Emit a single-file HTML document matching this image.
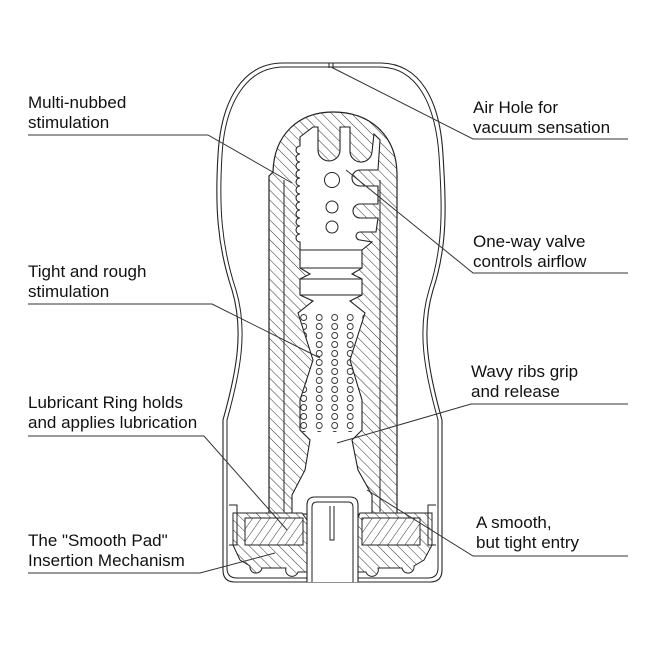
<!DOCTYPE html>
<html><head><meta charset="utf-8"><style>
html,body{margin:0;padding:0;background:#fff}
svg{display:block}
text{font-family:"Liberation Sans",Arial,sans-serif;font-size:17px;fill:#111}
</style></head><body>
<svg width="650" height="650" viewBox="0 0 650 650" xmlns="http://www.w3.org/2000/svg">
<defs>
<pattern id="h" width="7" height="7" patternUnits="userSpaceOnUse" patternTransform="rotate(-45)">
<rect width="7" height="7" fill="#fff"/><line x1="0" y1="0" x2="0" y2="7" stroke="#333" stroke-width="1"/>
</pattern>
<pattern id="h2" width="7" height="7" patternUnits="userSpaceOnUse" patternTransform="rotate(35)">
<rect width="7" height="7" fill="#fff"/><line x1="0" y1="0" x2="0" y2="7" stroke="#333" stroke-width="1"/>
</pattern>
<pattern id="d" x="296" y="304" width="15.5" height="9" patternUnits="userSpaceOnUse">
<circle cx="7.7" cy="4.5" r="3" fill="none" stroke="#333" stroke-width="0.9"/>
</pattern>
<clipPath id="dc"><path d="M298,313 L313,360 L300,400 L300,432 L362,432 L362,400 L350,360 L365,313 Z"/></clipPath>
</defs>

<g fill="none" stroke="#222">
<path stroke-width="1.1" d="M283,63 H380 C420,63 440,100 443,155 C446,205 448,245 433,290 C421,330 428,370 442,420 L442,570 Q442,582 430,582 H235 Q223,582 223,570 L223,420 C237,370 244,330 232,290 C217,245 215,205 218,155 C221,100 243,63 283,63 Z"/>
<path stroke-width="1" d="M284,67 H379 C416,67 435,102 439,155 C442,205 444,245 429,290 C417,330 424,370 438,420 L438,568 Q438,578 428,578 H237 Q227,578 227,568 L227,420 C241,370 248,330 236,290 C221,245 219,205 222,155 C225,102 247,67 284,67 Z"/>
<line x1="329" y1="63" x2="329" y2="68" stroke-width="1"/><line x1="333" y1="63" x2="333" y2="68" stroke-width="1"/>
</g>

<path d="M269,514 V176 L273,172 C274,135 298,112 333,112 C370,112 396,135 397,173 V514 Z" fill="url(#h)" stroke="#222" stroke-width="1.2"/>
<line x1="284" y1="180" x2="284" y2="512" stroke="#222" stroke-width="1"/>
<line x1="380" y1="180" x2="380" y2="512" stroke="#222" stroke-width="1"/>

<path d="M300,137 L313,127 L318,127 L318,150 A11,11 0 0 0 340,150 L340,127 L350,127 L350,150 A11,11 0 0 0 372,152 L374,134 L380,140 L378,170 L360,170 A8,8 0 0 0 360,186 L378,186 L378,204 L360,204 A7,7 0 0 0 360,218 L378,218 L376,232 L360,232 A4,4 0 0 0 360,240 L372,242 L362,250 L362,268 L352,274 L362,279 L362,295 L350,301 L365,313 L350,360 L362,400 L362,430 L352,440 L358,470 L372,495 L372,514 L292,514 L292,495 L305,470 L310,440 L300,430 L300,400 L313,360 L298,313 L313,301 L300,295 L300,279 L310,274 L300,268 L300,250 L300,242 a4,4 0 0 1 0,-8 a4,4 0 0 1 0,-8 a4,4 0 0 1 0,-8 a4,4 0 0 1 0,-8 a4,4 0 0 1 0,-8 a4,4 0 0 1 0,-8 a4,4 0 0 1 0,-8 a4,4 0 0 1 0,-8 a4,4 0 0 1 0,-8 a4,4 0 0 1 0,-8 a4,4 0 0 1 0,-8 a4,4 0 0 1 0,-8 Z" fill="#fff" stroke="#222" stroke-width="1.1"/>
<line x1="300" y1="268" x2="362" y2="268" stroke="#222"/><line x1="300" y1="295" x2="362" y2="295" stroke="#222"/>
<line x1="300" y1="250" x2="362" y2="250" stroke="#222"/><line x1="300" y1="279" x2="362" y2="279" stroke="#222"/>
<g fill="none" stroke="#222" stroke-width="1"><circle cx="332" cy="180" r="7.5"/><circle cx="332" cy="207" r="6"/><circle cx="332" cy="227" r="6"/></g>
<rect x="290" y="300" width="80" height="135" fill="url(#d)" clip-path="url(#dc)"/>

<path d="M233,513 H302 L307,520 V572 L298,572 A6,6 0 0 1 286,568 L262,568 A6,6 0 0 1 250,566 L240,560 L233,545 Z" fill="url(#h)" stroke="#222"/>
<path d="M432,513 H360 L357,520 V572 L366,572 A6,6 0 0 0 378,568 L402,568 A6,6 0 0 0 414,566 L424,560 L432,545 Z" fill="url(#h)" stroke="#222"/>
<rect x="245" y="518" width="58" height="27" fill="url(#h2)" stroke="#222"/>
<rect x="362" y="518" width="58" height="27" fill="url(#h2)" stroke="#222"/>
<g fill="none" stroke="#222"><path d="M229,505 h8 v40 h-8"/><path d="M436,505 h-8 v40 h8"/></g>
<path d="M307,582 V505 Q307,497 315,497 H350 Q358,497 358,505 V582" fill="#fff" stroke="#222" stroke-width="1.1"/>
<path d="M312,582 V507 Q312,502 317,502 H348 Q353,502 353,507 V582" fill="none" stroke="#222"/>
<path d="M330,506 V540 H334 V506" fill="none" stroke="#222"/>

<g fill="none" stroke="#333" stroke-width="1">
<polyline points="28,135 208,135 292,183"/>
<polyline points="628,139 473,139 331,67"/>
<polyline points="628,273 473,273 346,170"/>
<polyline points="28,304 212,304 320,358"/>
<polyline points="628,404 471,404 337,443"/>
<polyline points="28,436 204,436 287,530"/>
<polyline points="28,573 200,573 275,553"/>
<polyline points="628,556 473,556 367,490"/>
</g>

<text x="28" y="108">Multi-nubbed</text><text x="28" y="128">stimulation</text>
<text x="473" y="113">Air Hole for</text><text x="473" y="133">vacuum sensation</text>
<text x="473" y="247">One-way valve</text><text x="473" y="267">controls airflow</text>
<text x="28" y="277">Tight and rough</text><text x="28" y="297">stimulation</text>
<text x="471" y="377">Wavy ribs grip</text><text x="471" y="397">and release</text>
<text x="28" y="408">Lubricant Ring holds</text><text x="28" y="428">and applies lubrication</text>
<text x="476" y="528">A smooth,</text><text x="476" y="548">but tight entry</text>
<text x="28" y="546">The "Smooth Pad"</text><text x="28" y="566">Insertion Mechanism</text>
</svg>
</body></html>
